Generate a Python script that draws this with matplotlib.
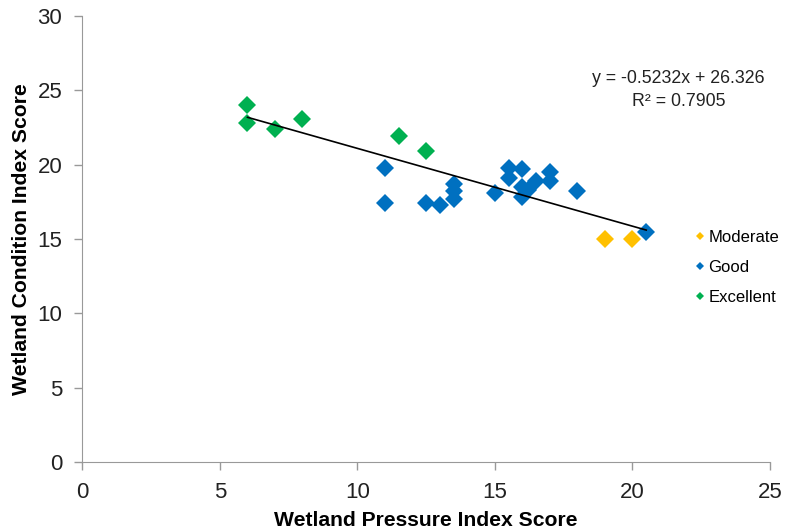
import numpy as np
import matplotlib.pyplot as plt

plt.rcParams['font.family'] = ['Liberation Sans', 'DejaVu Sans']

# wetland scores
excellent_x = [6, 6, 7, 8, 11.5, 12.5]
excellent_y = [24.0, 22.8, 22.4, 23.1, 21.9, 20.9]

good_x = [11, 11, 12.5, 13, 13.5, 13.5, 13.5, 15, 15.5, 15.5, 16, 16, 16.2, 16, 16.5, 17, 17, 18, 20.5]
good_y = [19.8, 17.4, 17.4, 17.3, 18.7, 18.2, 17.7, 18.1, 19.8, 19.1, 19.7, 18.5, 18.3, 17.8, 18.9, 19.5, 18.9, 18.2, 15.5]

moderate_x = [19, 20]
moderate_y = [15.0, 15.0]

slope = -0.5232
intercept = 26.326
trend_x = np.array([6, 20.5])

fig = plt.figure(figsize=(7.87, 5.30), dpi=100)
ax = fig.add_axes([0.1048, 0.1283, 0.8736, 0.8415])

ax.plot(moderate_x, moderate_y, 'D', color='#FFC000', ms=9.5, mew=0, label='Moderate')
ax.plot(good_x, good_y, 'D', color='#0070C0', ms=9.5, mew=0, label='Good')
ax.plot(excellent_x, excellent_y, 'D', color='#00B050', ms=9.5, mew=0, label='Excellent')
ax.plot(trend_x, slope * trend_x + intercept, color='black', lw=1.2, zorder=3)

ax.text(0.867, 0.834, 'y = -0.5232x + 26.326\nR² = 0.7905', transform=ax.transAxes,
        ha='center', va='center', fontsize=12.8, color='#222222', linespacing=1.4)

ax.set_xlim(0, 25)
ax.set_ylim(0, 30)
ax.set_xticks(range(0, 26, 5))
ax.set_yticks(range(0, 31, 5))
ax.tick_params(colors='#999999', labelcolor='#222222', labelsize=16, length=5.5, width=1)
ax.tick_params(axis='x', pad=9)
ax.tick_params(axis='y', pad=9)
for s in ['top', 'right']:
    ax.spines[s].set_visible(False)
for s in ['left', 'bottom']:
    ax.spines[s].set_color('#999999')

ax.set_xlabel('Wetland Pressure Index Score', fontsize=15.2, fontweight='bold', labelpad=6)
ax.set_ylabel('Wetland Condition Index Score', fontsize=15.2, fontweight='bold', labelpad=5)

leg = ax.legend(loc='center left', bbox_to_anchor=(0.869, 0.437), frameon=False, fontsize=12,
                markerscale=0.48, handlelength=0.6, handletextpad=0.2, labelspacing=0.9)

fig.savefig('out.png', dpi=100)
